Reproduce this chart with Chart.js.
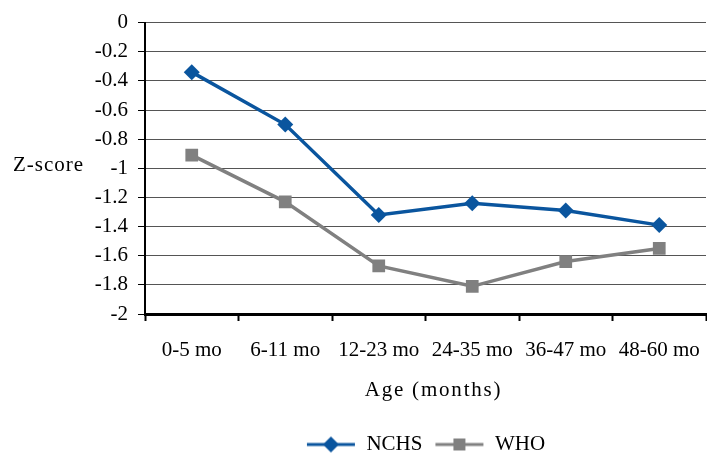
<!DOCTYPE html>
<html>
<head>
<meta charset="utf-8">
<script src="https://cdn.jsdelivr.net/npm/chart.js@4/dist/chart.umd.min.js"></script>
<style>
  html, body { margin: 0; padding: 0; background: #fff; }
  #wrap { width: 707px; height: 456px; position: relative; }
</style>
</head>
<body>
<div id="wrap"><canvas id="chart"></canvas></div>
<script>
// chart data
const ageGroups = ['0-5 mo', '6-11 mo', '12-23 mo', '24-35 mo', '36-47 mo', '48-60 mo'];
const nchsValues = [-0.34, -0.70, -1.32, -1.24, -1.29, -1.39];
const whoValues = [-0.91, -1.23, -1.67, -1.81, -1.64, -1.55];
const yTicks = [0, -0.2, -0.4, -0.6, -0.8, -1, -1.2, -1.4, -1.6, -1.8, -2];
const yTitle = 'Z-score';
const xTitle = 'Age (months)';

const blue = '#0A559E';
const grey = '#808080';
const font = 'Liberation Serif, Times New Roman, serif';

// little legend pictures: a line with the marker in the middle
function legendIcon(color, style) {
    const c = document.createElement('canvas');
    c.width = 50;
    c.height = 18;
    const g = c.getContext('2d');
    g.strokeStyle = color;
    g.lineWidth = 3;
    g.beginPath();
    g.moveTo(1, 9);
    g.lineTo(49, 9);
    g.stroke();
    g.fillStyle = color;
    g.beginPath();
    if (style === 'diamond') {
        g.moveTo(25, 1); g.lineTo(33, 9); g.lineTo(25, 17); g.lineTo(17, 9);
    } else {
        g.rect(19, 3, 12, 12);
    }
    g.closePath();
    g.fill();
    return c;
}

// axis titles drawn flat, like the original
const axisTitles = {
    id: 'axisTitles',
    afterDraw(chart) {
        const ctx = chart.ctx;
        const area = chart.chartArea;
        ctx.save();
        ctx.fillStyle = '#000';
        ctx.textBaseline = 'middle';
        ctx.font = '21px ' + font;
        ctx.letterSpacing = '1px';
        ctx.textAlign = 'left';
        ctx.fillText(yTitle, 13, 165);
        ctx.letterSpacing = '1.8px';
        ctx.textAlign = 'center';
        ctx.fillText(xTitle, (area.left + area.right) / 2 + 8, 390);
        ctx.restore();
    }
};

new Chart(document.getElementById('chart'), {
    type: 'line',
    data: {
        labels: ageGroups,
        datasets: [{
            label: 'NCHS',
            data: nchsValues,
            borderColor: blue,
            backgroundColor: blue,
            borderWidth: 3.5,
            pointStyle: 'rectRot',
            pointRadius: 8,
            pointBorderWidth: 0,
            tension: 0
        }, {
            label: 'WHO',
            data: whoValues,
            borderColor: grey,
            backgroundColor: grey,
            borderWidth: 3.5,
            pointStyle: 'rect',
            pointRadius: 9,
            pointBorderWidth: 0,
            tension: 0
        }]
    },
    options: {
        responsive: true,
        maintainAspectRatio: false,
        animation: false,
        layout: { autoPadding: false, padding: { top: 4, right: 1, bottom: -9, left: 0 } },
        plugins: {
            tooltip: { enabled: false },
            legend: {
                position: 'bottom',
                fullSize: false,
                labels: {
                    usePointStyle: true,
                    pointStyleWidth: 50,
                    padding: 12,
                    color: '#000',
                    font: { family: font, size: 21 },
                    generateLabels: function (chart) {
                        return chart.data.datasets.map(function (ds, i) {
                            return {
                                text: ds.label,
                                pointStyle: legendIcon(ds.borderColor, i === 0 ? 'diamond' : 'square'),
                                datasetIndex: i,
                                fontColor: '#000',
                                lineWidth: 0,
                                strokeStyle: 'transparent',
                                fillStyle: 'transparent'
                            };
                        });
                    }
                }
            }
        },
        scales: {
            x: {
                offset: true,
                afterFit: function (s) {
                    s.height = 108;
                    s.paddingLeft = 0;
                    s.paddingRight = 0;
                },
                grid: {
                    offset: true,
                    drawOnChartArea: true,
                    color: function (c) { return c.index === ageGroups.length ? '#999' : 'rgba(0,0,0,0)'; },
                    tickColor: '#000',
                    tickLength: 7,
                    tickWidth: 2
                },
                border: { color: '#000', width: 3 },
                ticks: {
                    color: '#000',
                    padding: 17,
                    maxRotation: 0,
                    autoSkip: false,
                    font: { family: font, size: 21 }
                }
            },
            y: {
                min: -2,
                max: 0,
                afterFit: function (s) { s.width = 145; },
                afterBuildTicks: function (s) {
                    s.ticks = yTicks.map(function (v) { return { value: v }; });
                },
                grid: {
                    color: '#555',
                    tickColor: '#000',
                    tickLength: 7,
                    lineWidth: 1
                },
                border: { color: '#000', width: 2 },
                ticks: {
                    color: '#000',
                    padding: 10,
                    font: { family: font, size: 21 },
                    callback: function (v) { return String(Math.round(v * 10) / 10); }
                }
            }
        }
    },
    plugins: [axisTitles]
});
</script>
</body>
</html>
